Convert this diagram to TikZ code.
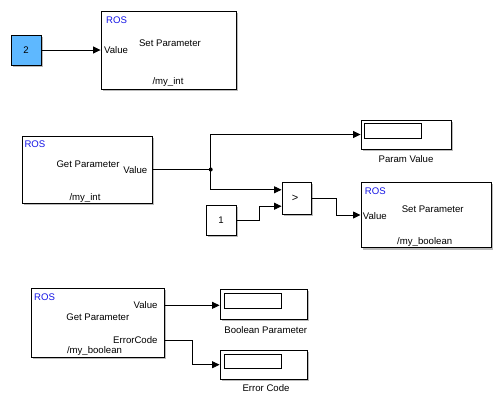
\documentclass[tikz,border=0pt]{standalone}
\usepackage{fontspec}
\setmainfont{Liberation Sans}
\usetikzlibrary{arrows.meta,calc,shadows}
\definecolor{cblue}{RGB}{94,184,255}
\definecolor{rosblue}{RGB}{20,20,230}
\begin{document}
\begin{tikzpicture}[x=1pt,y=-1pt,
  blk/.style={draw=black,line width=0.9pt,fill=white,inner sep=0pt,
    drop shadow={shadow xshift=1.8pt,shadow yshift=-1.8pt,fill=black!45,opacity=0.6}},
  scp/.style={draw=black,line width=0.9pt,fill=white,inner sep=0pt},
  txt/.style={inner sep=0pt,text height=6.8pt,text depth=0pt,font=\fontsize{9.6}{11}\selectfont},
  ros/.style={txt,text=rosblue},
  wire/.style={line width=0.8pt,-{Triangle[length=7.5pt,width=7pt]}},
  line/.style={line width=0.8pt}]
\useasboundingbox (0,0) rectangle (502,408);
% blocks
\node[blk,fill=cblue,minimum width=30pt,minimum height=30pt] (c2) at (26,50) {};
\node[txt] (c2t) at (c2.center) {2};
\node[blk,minimum width=135pt,minimum height=78pt] (sp1) at (168.5,50) {};
\node[blk,minimum width=130pt,minimum height=67pt] (gp1) at (87,169.5) {};
\node[blk,minimum width=90pt,minimum height=29pt] (pv) at (406,134.5) {};
\node[scp,minimum width=57.7pt,minimum height=15pt] (pvi) at (392.9,130.8) {};
\node[blk,minimum width=29pt,minimum height=32pt] (gt) at (296.5,198) {};
\node[blk,minimum width=29.3pt,minimum height=30pt] (k1) at (221.3,220) {};
\node[blk,minimum width=130.7pt,minimum height=65.4pt] (sp2) at (426.3,215) {};
\node[blk,minimum width=132.3pt,minimum height=69pt] (gp2) at (97.8,322.8) {};
\node[blk,minimum width=87pt,minimum height=30pt] (bp) at (263.5,304.3) {};
\node[scp,minimum width=57.7pt,minimum height=15pt] (bpi) at (252.8,300.8) {};
\node[blk,minimum width=87pt,minimum height=29.3pt] (ec) at (263.5,364.7) {};
\node[scp,minimum width=57.7pt,minimum height=14.3pt] (eci) at (252.8,361.2) {};
% texts
\node[ros,anchor=west] (sp1r) at (106,20) {ROS};
\node[txt,anchor=west] (sp1v) at (104,50.5) {Value};
\node[txt] (sp1n) at (170,43.3) {Set Parameter};
\node[txt] (sp1p) at (168,80.7) {/my\_int};
\node[ros,anchor=west] (gp1r) at (24.3,144.3) {ROS};
\node[txt] (gp1n) at (88,164) {Get Parameter};
\node[txt,anchor=east] (gp1v) at (147.5,170) {Value};
\node[txt] (gp1p) at (85,196.7) {/my\_int};
\node[txt] (pvl) at (406,159.3) {Param Value};
\node[txt,font=\fontsize{11}{12}\selectfont] (gtt) at (295,198.5) {>};
\node[txt] (k1t) at (221,220) {1};
\node[ros,anchor=west] (sp2r) at (364.7,191) {ROS};
\node[txt,anchor=west] (sp2v) at (362.7,216) {Value};
\node[txt] (sp2n) at (432.7,209) {Set Parameter};
\node[txt] (sp2p) at (424.7,241) {/my\_boolean};
\node[ros,anchor=west] (gp2r) at (34,297.3) {ROS};
\node[txt,anchor=east] (gp2v) at (157.7,305) {Value};
\node[txt] (gp2n) at (97.8,316.7) {Get Parameter};
\node[txt,anchor=east] (gp2e) at (157.7,340) {ErrorCode};
\node[txt] (gp2p) at (94.5,350) {/my\_boolean};
\node[txt] (bpl) at (265.7,330) {Boolean Parameter};
\node[txt] (ecl) at (266,388.3) {Error Code};
% ports
\coordinate (gtin1) at ($(gt.north west)!0.25!(gt.south west)$);
\coordinate (gtin2) at ($(gt.north west)!0.75!(gt.south west)$);
\coordinate (gp2o1) at ($(gp2.north east)!0.25!(gp2.south east)$);
\coordinate (gp2o2) at ($(gp2.north east)!0.75!(gp2.south east)$);
\coordinate (j) at (210.7,169.5);
% connectors
\draw[wire] (c2.east) -- (sp1.west);
\draw[line] (gp1.east) -- (j);
\fill (j) circle (2pt);
\draw[wire] (j) |- (pv.west);
\draw[wire] (j) |- (gtin1);
\draw[wire] (k1.east) -| ($(k1.east)!0.5!(gtin2)$) |- (gtin2);
\draw[wire] (gt.east) -| ($(gt.east)!0.5!(sp2.west)$) |- (sp2.west);
\draw[wire] (gp2o1) -- (gp2o1 -| bp.west);
\draw[wire] (gp2o2) -| ($(gp2o2)!0.5!(ec.west)$) |- (ec.west);
\end{tikzpicture}
\end{document}
